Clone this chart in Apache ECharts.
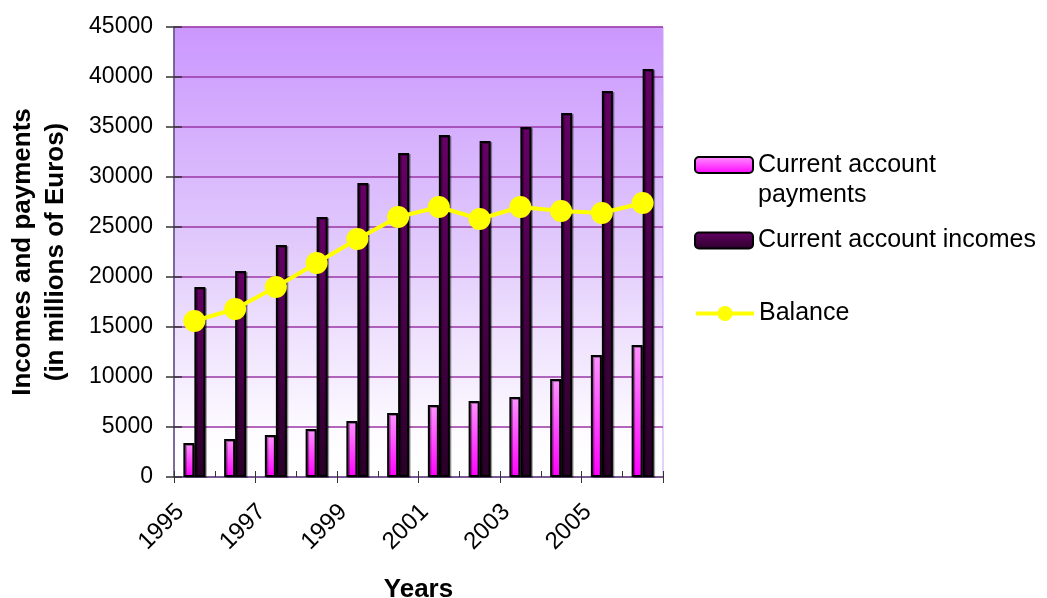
<!DOCTYPE html>
<html>
<head>
<meta charset="utf-8">
<script src="https://cdn.jsdelivr.net/npm/echarts@6/dist/echarts.min.js"></script>
<style>
  html, body { margin: 0; padding: 0; background: #ffffff; }
  #chart { width: 1047px; height: 598px; }
</style>
</head>
<body>
<div id="chart"></div>
<script>
// Years on the category axis
const years = ['1995', '1996', '1997', '1998', '1999', '2000', '2001', '2002', '2003', '2004', '2005', '2006'];
// Current account payments (millions of Euros)
const payments = [3400, 3800, 4200, 4800, 5600, 6400, 7200, 7600, 8000, 9800, 12200, 13200];
// Current account incomes (millions of Euros)
const incomes = [19000, 20600, 23200, 26000, 29400, 32400, 34200, 33600, 35000, 36400, 38600, 40800];
// Balance (millions of Euros)
const balance = [15600, 16800, 19000, 21400, 23800, 26000, 27000, 25800, 27000, 26600, 26400, 27400];

const FONT = '"Liberation Sans", Arial, sans-serif';
const chart = echarts.init(document.getElementById('chart'));

const grad = (c0, c1) => new echarts.graphic.LinearGradient(0, 0, 0, 1, [
  { offset: 0, color: c0 }, { offset: 1, color: c1 }
]);

chart.setOption({
  animation: false,
  backgroundColor: '#ffffff',
  grid: {
    left: 174, right: 384, top: 27, bottom: 121,
    containLabel: false,
    outerBoundsMode: 'none',
    show: true,
    borderWidth: 1,
    borderColor: '#c9a6f3',
    backgroundColor: new echarts.graphic.LinearGradient(0, 0, 0, 1, [
      { offset: 0, color: '#cb97fe' },
      { offset: 0.45, color: '#dfc6fc' },
      { offset: 0.9, color: '#fdfbff' },
      { offset: 1, color: '#ffffff' }
    ])
  },
  legend: [
    {
      data: ['Current account payments'],
      left: 694, top: 120, padding: 0, itemWidth: 58, itemHeight: 16,
      // blank first line keeps the swatch level with "Current account"
      formatter: () => '\nCurrent account\npayments',
      textStyle: { fontFamily: FONT, fontSize: 25, color: '#000', lineHeight: 30 }
    },
    {
      data: ['Current account incomes'],
      left: 694, top: 228, padding: 0, itemWidth: 58, itemHeight: 16,
      textStyle: { fontFamily: FONT, fontSize: 25, color: '#000' }
    },
    {
      data: ['Balance'],
      left: 694, top: 301, padding: 0, itemWidth: 58, itemHeight: 19,
      lineStyle: { width: 4 },
      textStyle: { fontFamily: FONT, fontSize: 25, color: '#000' }
    }
  ],
  xAxis: [
    {
      type: 'category',
      data: years,
      boundaryGap: true,
      name: 'Years',
      nameLocation: 'middle',
      nameGap: 100,
      nameMoveOverlap: false,
      nameTextStyle: { fontFamily: FONT, fontSize: 26, fontWeight: 'bold', color: '#000' },
      axisLine: { lineStyle: { color: '#6a5a86', width: 1.5 } },
      axisTick: { show: true, length: 6, lineStyle: { color: '#333', width: 1 } },
      axisLabel: {
        interval: 1, rotate: 45, margin: 17, padding: [0, 20, 0, 0],
        fontFamily: FONT, fontSize: 24, color: '#000'
      },
      splitLine: { show: false }
    },
    {
      type: 'category',
      data: years,
      position: 'bottom',
      boundaryGap: true,
      axisLine: { show: false },
      axisTick: { show: true, inside: true, length: 6, lineStyle: { color: '#333', width: 1 } },
      axisLabel: { show: false },
      splitLine: { show: false }
    }
  ],
  yAxis: [
    {
      type: 'value',
      min: 0, max: 45000, interval: 5000,
      name: 'Incomes and payments\n(in millions of Euros)',
      nameLocation: 'middle',
      nameRotate: 90,
      nameGap: 102,
      nameMoveOverlap: false,
      nameTextStyle: { fontFamily: FONT, fontSize: 26, fontWeight: 'bold', color: '#000', lineHeight: 33 },
      axisLine: { show: true, lineStyle: { color: '#5a4a78', width: 1.5 } },
      axisTick: { show: true, length: 8, lineStyle: { color: '#333', width: 1.5 } },
      axisLabel: {
        margin: 21, fontFamily: FONT, fontSize: 23, color: '#000',
        formatter: v => String(v)
      },
      splitLine: { show: true, lineStyle: { color: '#9a36a6', width: 1.5 } }
    },
    {
      type: 'value',
      min: 0, max: 45000, interval: 5000,
      position: 'left',
      axisLine: { show: false },
      axisTick: { show: true, inside: true, length: 8, lineStyle: { color: '#333', width: 1.5 } },
      axisLabel: { show: false },
      splitLine: { show: false }
    }
  ],
  series: [
    {
      name: 'Current account payments',
      type: 'bar',
      data: payments,
      barWidth: 11,
      barGap: '0%',
      itemStyle: {
        color: grad('#ff94ff', '#ff00ff'),
        borderColor: '#000',
        borderWidth: 2,
        shadowColor: 'rgba(0,0,0,0.35)',
        shadowOffsetX: 1.5,
        shadowOffsetY: 1
      }
    },
    {
      name: 'Current account incomes',
      type: 'bar',
      data: incomes,
      barWidth: 11,
      barGap: '0%',
      itemStyle: {
        color: grad('#660066', '#2a0029'),
        borderColor: '#000',
        borderWidth: 2,
        shadowColor: 'rgba(0,0,0,0.35)',
        shadowOffsetX: 1.5,
        shadowOffsetY: 1
      }
    },
    {
      name: 'Balance',
      type: 'line',
      data: balance,
      symbol: 'circle',
      symbolSize: 22,
      z: 5,
      lineStyle: { color: '#ffff00', width: 4 },
      itemStyle: { color: '#ffff00', borderWidth: 0 }
    }
  ]
});
</script>
</body>
</html>
